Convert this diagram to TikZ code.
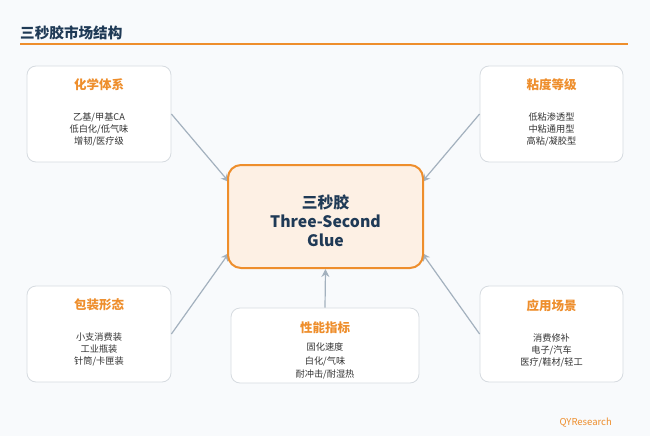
\documentclass[tikz,border=0pt]{standalone}
\usepackage{fontspec}
\setmainfont{Noto Sans CJK SC}
\usetikzlibrary{arrows.meta,calc}
\definecolor{bgc}{HTML}{F8FAFC}
\definecolor{navy}{HTML}{1F3A56}
\definecolor{orng}{HTML}{EE8E2C}
\definecolor{bord}{HTML}{D6DBE0}
\definecolor{peach}{HTML}{FDF0E4}
\definecolor{arr}{HTML}{A3B1BE}
\definecolor{txt}{HTML}{333333}
\tikzset{
  card/.style={draw=bord, line width=0.8pt, fill=white, rounded corners=9pt, inner sep=0pt},
  hub/.style={draw=orng, line width=2pt, fill=peach, rounded corners=13pt, inner sep=0pt},
  cardtitle/.style={text=orng, font=\bfseries\fontsize{12.5}{14}\selectfont},
  cardbody/.style={text=txt, font=\fontsize{9.2}{12}\selectfont, align=center},
  link/.style={draw=arr, line width=1.2pt, -{Stealth[length=8pt,width=8pt]}}
}
\begin{document}
\begin{tikzpicture}[x=1pt,y=-1pt]
\fill[bgc] (0,0) rectangle (650,436);
\useasboundingbox (0,0) rectangle (650,436);
% title
\node[anchor=west, text=navy, font=\bfseries\fontsize{14.6}{17}\selectfont, inner sep=0pt] (title) at (20,33) {三秒胶市场结构};
\draw[orng, line width=2pt] (20,44.5) -- (628,44.5);
% boxes
\node[card, minimum width=144pt, minimum height=96pt] (tl) at (99,114) {};
\node[card, minimum width=143pt, minimum height=96pt] (tr) at (551.5,114) {};
\node[card, minimum width=144pt, minimum height=96pt] (bl) at (99,334) {};
\node[card, minimum width=143pt, minimum height=96pt] (br) at (551.5,334) {};
\node[card, minimum width=188pt, minimum height=75pt] (bm) at (325,345.5) {};
% connectors
\coordinate (e1) at (229,182);
\coordinate (e2) at (422,182);
\coordinate (e3) at (229,253);
\coordinate (e4) at (422,253);
\draw[link] (tl.east) -- (e1);
\draw[link] (tr.west) -- (e2);
\draw[link] (bl.east) -- (e3);
\draw[link] (br.west) -- (e4);
\node[hub, minimum width=195pt, minimum height=103pt] (c) at (325.5,216.5) {};
\draw[link] (bm.north) -- (c.south);
\node[text=navy, font=\bfseries\fontsize{15.8}{19}\selectfont, align=center] (ct) at (325.5,221) {三秒胶\\Three-Second\\Glue};
% texts
\node[cardtitle] (tlt) at (99,85) {化学体系};
\node[cardbody] (tlb) at (99,129) {乙基/甲基CA\\低白化/低气味\\增韧/医疗级};
\node[cardtitle] (trt) at (551.5,85) {粘度等级};
\node[cardbody] (trb) at (551.5,129) {低粘渗透型\\中粘通用型\\高粘/凝胶型};
\node[cardtitle] (blt) at (99,305) {包装形态};
\node[cardbody] (blb) at (99,349) {小支消费装\\工业瓶装\\针筒/卡匣装};
\node[cardtitle] (brt) at (551.5,306) {应用场景};
\node[cardbody] (brb) at (551.5,350) {消费修补\\电子/汽车\\医疗/鞋材/轻工};
\node[cardtitle] (bmt) at (325,327.5) {性能指标};
\node[cardbody, font=\fontsize{9.2}{13.5}\selectfont] (bmb) at (325,361) {固化速度\\白化/气味\\耐冲击/耐湿热};
\node[text=orng, font=\fontsize{9.5}{11}\selectfont, anchor=east, inner sep=0pt] (brand) at (612,423) {QYResearch};
\end{tikzpicture}
\end{document}
